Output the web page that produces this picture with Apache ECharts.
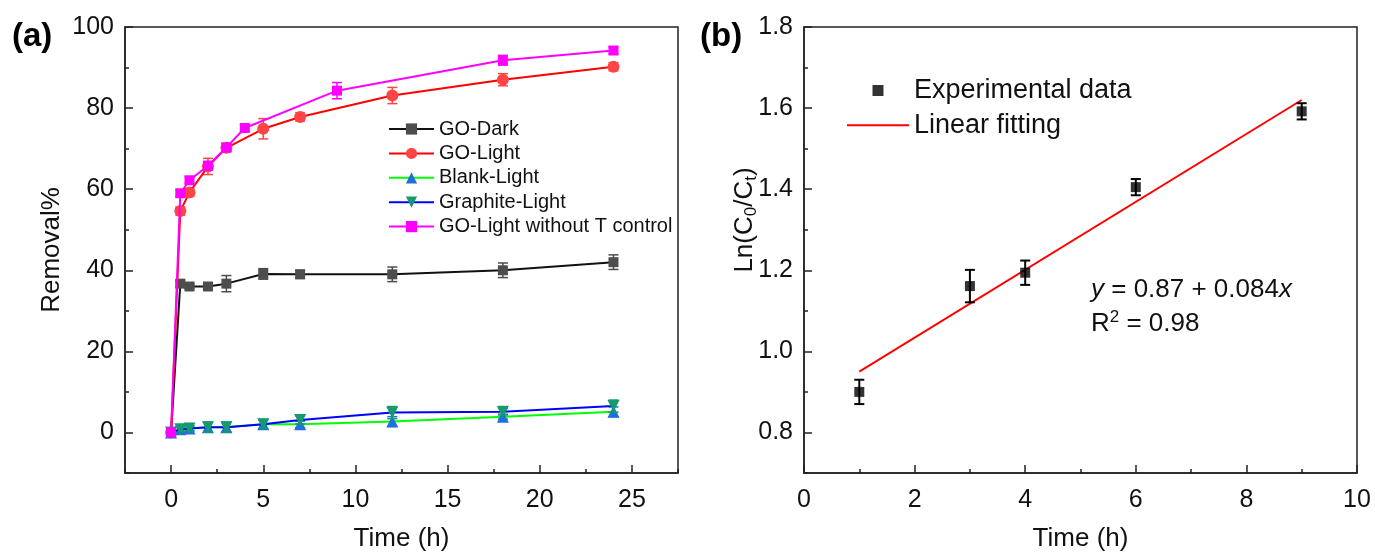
<!DOCTYPE html>
<html><head><meta charset="utf-8">
<script src="https://cdn.jsdelivr.net/npm/echarts@6/dist/echarts.min.js"></script>
<style>html,body{margin:0;padding:0;background:#fff}#c{width:1375px;height:552px}</style>
</head><body><div id="c"></div>
<script>
// ---------- Panel (a) data ----------
const timeA = [0, 0.5, 1, 2, 3, 5, 7, 12, 18, 24];
const goDark = [0, 36.7, 36.0, 36.0, 36.7, 39.1, 39.0, 39.0, 40.0, 42.0];
const goDarkErr = [0.5, 0.8, 0.6, 0.8, 2.0, 1.3, 1.0, 1.8, 1.8, 1.8];
const goLight = [0, 54.6, 59.2, 65.6, 70.2, 74.9, 77.8, 83.1, 87.0, 90.2];
const goLightErr = [0.5, 1.0, 1.0, 2.0, 1.0, 2.5, 1.0, 2.0, 1.5, 1.0];
const blankLight = [0, 0.8, 1.0, 1.3, 1.3, 2.0, 2.0, 2.7, 3.9, 5.1];
const blankLightErr = [0.5, 0.6, 0.6, 1.2, 1.2, 1.2, 0.8, 1.2, 0.6, 1.2];
const graphiteLight = [0, 0.8, 1.0, 1.3, 1.3, 2.0, 3.1, 4.9, 5.1, 6.5];
const graphiteLightErr = [0.5, 0.6, 0.6, 1.2, 1.2, 1.0, 1.0, 1.5, 0.8, 1.5];
const timeNoT = [0, 0.5, 1, 2, 3, 4, 9, 18, 24];
const goLightNoT = [0, 59.0, 62.2, 65.8, 70.3, 75.1, 84.3, 91.8, 94.2];
const goLightNoTErr = [0.5, 0.8, 0.8, 1.0, 1.0, 0.8, 2.0, 1.2, 0.8];
const seriesNamesA = ['GO-Dark', 'GO-Light', 'Blank-Light', 'Graphite-Light', 'GO-Light without T control'];
const xMajorA = [0, 5, 10, 15, 20, 25];
const xMinorA = [-2.5, 2.5, 7.5, 12.5, 17.5, 22.5, 27.5];
const yMajorA = [0, 20, 40, 60, 80, 100];
const yMinorA = [-10, 10, 30, 50, 70, 90];

// ---------- Panel (b) data ----------
const timeB = [1, 3, 4, 6, 9];
const lnB = [0.900, 1.161, 1.194, 1.405, 1.592];
const lnBErr = [0.03, 0.04, 0.03, 0.02, 0.02];
const fitX = [1, 9];
const fitY = [0.95, 1.62];
const xMajorB = [0, 2, 4, 6, 8, 10];
const xMinorB = [1, 3, 5, 7, 9];
const yMajorB = [0.8, 1.0, 1.2, 1.4, 1.6, 1.8];
const yMinorB = [0.7, 0.9, 1.1, 1.3, 1.5, 1.7];

const FONT = 'Liberation Sans, Arial, sans-serif';
const TXT = '#111';

function pairs(xs, ys) { return xs.map((x, i) => [x, ys[i]]); }
function errs(xs, ys, es) { return xs.map((x, i) => [x, ys[i] - es[i], ys[i] + es[i]]); }
function errRender(capHalf, lw) {
  return function (params, api) {
    const x = api.value(0), lo = api.value(1), hi = api.value(2);
    const p1 = api.coord([x, lo]), p2 = api.coord([x, hi]);
    const color = api.visual('color');
    const st = { stroke: color, lineWidth: lw };
    return { type: 'group', children: [
      { type: 'line', shape: { x1: p1[0], y1: p1[1], x2: p2[0], y2: p2[1] }, style: st },
      { type: 'line', shape: { x1: p1[0] - capHalf, y1: p1[1], x2: p1[0] + capHalf, y2: p1[1] }, style: st },
      { type: 'line', shape: { x1: p2[0] - capHalf, y1: p2[1], x2: p2[0] + capHalf, y2: p2[1] }, style: st }
    ]};
  };
}
function errSeries(xi, yi, data, color, capHalf, lw, z) {
  return { type: 'custom', xAxisIndex: xi, yAxisIndex: yi, data: data, renderItem: errRender(capHalf, lw),
    itemStyle: { color: color }, encode: { x: 0, y: [1, 2] }, z: z, silent: true };
}
function lineSeries(name, data, lineColor, markColor, symbol, size, rotate, z) {
  return { type: 'line', name: name, xAxisIndex: 0, yAxisIndex: 0, data: data, symbol: symbol, symbolSize: size,
    symbolRotate: rotate, showAllSymbol: true, lineStyle: { color: lineColor, width: 2 },
    itemStyle: { color: markColor, borderWidth: 0 }, z: z };
}
function mainX(grid, min, max, major, nameTxt) {
  return { type: 'value', gridIndex: grid, min: min, max: max, position: 'bottom',
    name: nameTxt, nameLocation: 'middle', nameGap: 53,
    nameTextStyle: { fontFamily: FONT, fontSize: 26, color: TXT },
    axisLine: { show: true, onZero: false, lineStyle: { color: '#222', width: 1.5 } },
    axisTick: { show: true, inside: true, length: 8, customValues: major, lineStyle: { color: '#222', width: 1.5 } },
    axisLabel: { show: true, customValues: major, margin: 15, fontFamily: FONT, fontSize: 25, color: TXT },
    splitLine: { show: false } };
}
function minorX(grid, min, max, minor) {
  return { type: 'value', gridIndex: grid, min: min, max: max, position: 'bottom', offset: 0,
    axisLine: { show: false, onZero: false },
    axisTick: { show: true, inside: true, length: 4, customValues: minor, lineStyle: { color: '#222', width: 1.5 } },
    axisLabel: { show: false }, splitLine: { show: false } };
}
function mainY(grid, min, max, major, fmt, nameTxt, gap) {
  return { type: 'value', gridIndex: grid, min: min, max: max, position: 'left',
    name: nameTxt, nameLocation: 'middle', nameGap: gap,
    nameTextStyle: { fontFamily: FONT, fontSize: 26, color: TXT },
    axisLine: { show: true, onZero: false, lineStyle: { color: '#222', width: 1.5 } },
    axisTick: { show: true, inside: true, length: 8, customValues: major, lineStyle: { color: '#222', width: 1.5 } },
    axisLabel: { show: true, customValues: major, margin: 11, fontFamily: FONT, fontSize: 25, color: TXT, formatter: fmt },
    splitLine: { show: false } };
}
function minorY(grid, min, max, minor) {
  return { type: 'value', gridIndex: grid, min: min, max: max, position: 'left', offset: 0,
    axisLine: { show: false, onZero: false },
    axisTick: { show: true, inside: true, length: 4, customValues: minor, lineStyle: { color: '#222', width: 1.5 } },
    axisLabel: { show: false }, splitLine: { show: false } };
}

const cDark = '#4d4d4d', cDarkLine = '#111111';
const cRed = '#ff4444', cRedLine = '#ff0000';
const cBlueTri = '#1f6fdc', cGreenLine = '#00ff00';
const cGreenTri = '#139a6e', cBlueLine = '#0000ff';
const cMag = '#ff00ff';

const option = {
  animation: false,
  grid: [
    { left: 125, top: 27, width: 553, height: 446, show: true, borderColor: '#222', borderWidth: 1.5,
      backgroundColor: 'transparent', containLabel: false, outerBoundsMode: 'none' },
    { left: 804, top: 27, width: 553, height: 446, show: true, borderColor: '#222', borderWidth: 1.5,
      backgroundColor: 'transparent', containLabel: false, outerBoundsMode: 'none' }
  ],
  xAxis: [
    mainX(0, -2.5, 27.5, xMajorA, 'Time (h)'),
    minorX(0, -2.5, 27.5, xMinorA),
    mainX(1, 0, 10, xMajorB, 'Time (h)'),
    minorX(1, 0, 10, xMinorB)
  ],
  yAxis: [
    mainY(0, -10, 100, yMajorA, v => String(v), 'Removal%', 60),
    minorY(0, -10, 100, yMinorA),
    mainY(1, 0.7, 1.8, yMajorB, v => v.toFixed(1), '', 60),
    minorY(1, 0.7, 1.8, yMinorB)
  ],
  legend: [
    { data: seriesNamesA, orient: 'vertical', left: 383, top: 114, itemWidth: 45, itemHeight: 14, itemGap: 4.4,
      selectedMode: false, textStyle: { fontFamily: FONT, fontSize: 20, lineHeight: 20, color: TXT } },
    { data: ['Experimental data', { name: 'Linear fitting', itemStyle: { opacity: 0 } }], orient: 'vertical', left: 841, top: 72,
      itemWidth: 62, itemHeight: 11, itemGap: 7.8,
      selectedMode: false, textStyle: { fontFamily: FONT, fontSize: 27, lineHeight: 27, color: TXT } }
  ],
  series: [
    errSeries(0, 0, errs(timeA, goDark, goDarkErr), cDark, 5, 1.5, 3),
    lineSeries('GO-Dark', pairs(timeA, goDark), cDarkLine, cDark, 'rect', 10, 0, 4),
    errSeries(0, 0, errs(timeA, goLight, goLightErr), cRed, 5, 1.5, 5),
    lineSeries('GO-Light', pairs(timeA, goLight), cRedLine, cRed, 'circle', 12, 0, 6),
    errSeries(0, 0, errs(timeA, blankLight, blankLightErr), cBlueTri, 5, 1.5, 7),
    lineSeries('Blank-Light', pairs(timeA, blankLight), cGreenLine, cBlueTri, 'triangle', 12, 0, 8),
    errSeries(0, 0, errs(timeA, graphiteLight, graphiteLightErr), cGreenTri, 5, 1.5, 9),
    lineSeries('Graphite-Light', pairs(timeA, graphiteLight), cBlueLine, cGreenTri, 'triangle', 12, 180, 10),
    errSeries(0, 0, errs(timeNoT, goLightNoT, goLightNoTErr), cMag, 5, 1.5, 11),
    lineSeries('GO-Light without T control', pairs(timeNoT, goLightNoT), cMag, cMag, 'rect', 10, 0, 12),
    { type: 'line', name: 'Linear fitting', xAxisIndex: 2, yAxisIndex: 2, data: pairs(fitX, fitY), symbol: 'none',
      lineStyle: { color: '#ff0000', width: 2 }, itemStyle: { color: '#ff0000' }, z: 3 },
    errSeries(2, 2, errs(timeB, lnB, lnBErr), '#000', 5, 2, 4),
    { type: 'scatter', name: 'Experimental data', xAxisIndex: 2, yAxisIndex: 2, data: pairs(timeB, lnB),
      symbol: 'path://M0,0H10V10H0Z', symbolKeepAspect: true, symbolSize: 10, itemStyle: { color: '#000' }, z: 5 }
  ],
  graphic: [
    { type: 'text', left: 12, top: 20, style: { text: '(a)', fontFamily: FONT, fontSize: 33, fontWeight: 'bold', fill: '#000' } },
    { type: 'text', left: 700, top: 20, style: { text: '(b)', fontFamily: FONT, fontSize: 33, fontWeight: 'bold', fill: '#000' } },
    { type: 'text', x: 745, y: 220, rotation: Math.PI / 2,
      style: { text: 'Ln(C{s|0}/C{s|t})', fontFamily: FONT, fontSize: 26, fill: TXT, align: 'center', verticalAlign: 'middle',
        rich: { s: { fontFamily: FONT, fontSize: 17, fill: TXT, verticalAlign: 'bottom', lineHeight: 30 } } } },
    { type: 'text', x: 1091, y: 290,
      style: { text: '{i|y} = 0.87 + 0.084{i|x}', fontFamily: FONT, fontSize: 26, fill: TXT, verticalAlign: 'middle',
        rich: { i: { fontFamily: FONT, fontSize: 26, fontStyle: 'italic', fill: TXT } } } },
    { type: 'text', x: 1091, y: 324,
      style: { text: 'R{p|2} = 0.98', fontFamily: FONT, fontSize: 26, fill: TXT, verticalAlign: 'middle',
        rich: { p: { fontFamily: FONT, fontSize: 17, fill: TXT, verticalAlign: 'top', lineHeight: 30 } } } }
  ]
};
const chart = echarts.init(document.getElementById('c'), null, { renderer: 'canvas' });
chart.setOption(option);
</script></body></html>
